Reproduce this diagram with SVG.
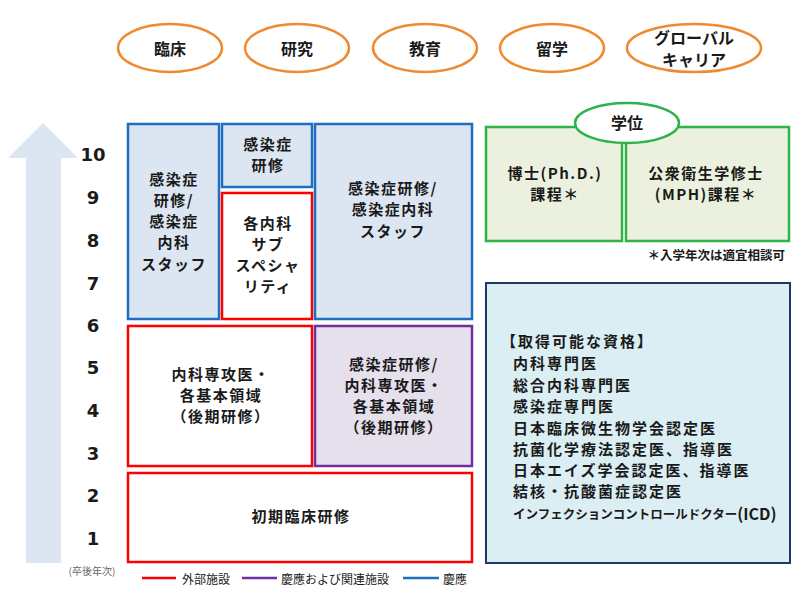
<svg xmlns="http://www.w3.org/2000/svg" width="800" height="600" viewBox="0 0 800 600">
<style>
text{font-family:"Noto Sans CJK JP","Noto Sans",sans-serif;fill:#1a1a1a;font-weight:bold}
.c{text-anchor:middle;dominant-baseline:central;font-size:15px;letter-spacing:1.5px}
.t{text-anchor:middle;dominant-baseline:central;font-size:16px}
.yr{text-anchor:middle;dominant-baseline:central;font-size:18px;font-family:"DejaVu Sans","Noto Sans",sans-serif}
.ov{fill:#fff;stroke:#F08A30;stroke-width:2.5}
.blue{fill:#DCE6F2;stroke:#1F6FC0;stroke-width:2.5}
.red{fill:#fff;stroke:#FF0000;stroke-width:2.5}
.pur{fill:#E5E0EC;stroke:#7030A0;stroke-width:2.5}
.grn{fill:#EBF1DE;stroke:#2DB34A;stroke-width:2.5}
.q{font-size:15px;letter-spacing:2px;dominant-baseline:central}
.lg{font-size:12px;dominant-baseline:central;font-weight:normal}
</style>
<rect width="800" height="600" fill="#fff"/>
<g id="career-ovals">
<g id="o1"><ellipse class="ov" cx="170" cy="48" rx="52" ry="24"/><text class="t" x="170" y="48">臨床</text></g>
<g id="o2"><ellipse class="ov" cx="297" cy="48" rx="52" ry="24"/><text class="t" x="297" y="48">研究</text></g>
<g id="o3"><ellipse class="ov" cx="425" cy="48" rx="52" ry="24"/><text class="t" x="425" y="48">教育</text></g>
<g id="o4"><ellipse class="ov" cx="552" cy="48" rx="52" ry="24"/><text class="t" x="552" y="48">留学</text></g>
<g id="o5"><ellipse class="ov" cx="694" cy="48" rx="67" ry="24"/><text class="t" x="694" y="37">グローバル</text><text class="t" x="694" y="59">キャリア</text></g>
</g>
<g id="axis">
<polygon points="43,123 78,158 61,158 61,563 26,563 26,158 8,158" fill="#DCE6F2"/>
<text class="yr" x="93" y="154">10</text>
<text class="yr" x="93" y="197">9</text>
<text class="yr" x="93" y="240">8</text>
<text class="yr" x="93" y="283">7</text>
<text class="yr" x="93" y="325">6</text>
<text class="yr" x="93" y="367">5</text>
<text class="yr" x="93" y="410">4</text>
<text class="yr" x="93" y="453">3</text>
<text class="yr" x="93" y="495">2</text>
<text class="yr" x="93" y="538">1</text>
<text x="92" y="570" text-anchor="middle" style="font-size:10px;font-weight:normal;fill:#666;dominant-baseline:central">(卒後年次)</text>
</g>
<g id="b1"><rect class="blue" x="128" y="124" width="91" height="195"/>
<text class="c" x="174" y="178">感染症</text><text class="c" x="174" y="199">研修/</text><text class="c" x="174" y="220">感染症</text><text class="c" x="174" y="241">内科</text><text class="c" x="174" y="263">スタッフ</text></g>
<g id="b2"><rect class="blue" x="222" y="124" width="90" height="63"/>
<text class="c" x="268" y="143">感染症</text><text class="c" x="268" y="164">研修</text></g>
<g id="b3"><rect class="red" x="222" y="193" width="90" height="126"/>
<text class="c" x="268" y="222">各内科</text><text class="c" x="268" y="243">サブ</text><text class="c" x="268" y="264">スペシャ</text><text class="c" x="268" y="285">リティ</text></g>
<g id="b4"><rect class="blue" x="315" y="124" width="157" height="195"/>
<text class="c" x="393" y="187">感染症研修/</text><text class="c" x="393" y="208">感染症内科</text><text class="c" x="393" y="230">スタッフ</text></g>
<g id="b5"><rect class="red" x="128" y="326" width="184" height="140"/>
<text class="c" x="221" y="373">内科専攻医・</text><text class="c" x="221" y="394">各基本領域</text><text class="c" x="221" y="415">（後期研修）</text></g>
<g id="b6"><rect class="pur" x="315" y="326" width="157" height="140"/>
<text class="c" x="394" y="363">感染症研修/</text><text class="c" x="394" y="384">内科専攻医・</text><text class="c" x="394" y="405">各基本領域</text><text class="c" x="394" y="426">（後期研修）</text></g>
<g id="b7"><rect class="red" x="128" y="473" width="344" height="89"/>
<text class="c" x="301" y="515">初期臨床研修</text></g>
<g id="degree">
<g id="g1"><rect class="grn" x="486" y="127" width="136" height="114"/>
<text class="c" x="555" y="172">博士(Ph.D.)</text><text class="c" x="555" y="193">課程＊</text></g>
<g id="g2"><rect class="grn" x="626" y="127" width="163" height="114"/>
<text class="c" x="706" y="172">公衆衛生学修士</text><text class="c" x="706" y="193">(MPH)課程＊</text></g>
<g id="g3"><ellipse cx="627" cy="123" rx="52" ry="20" fill="#fff" stroke="#2DB34A" stroke-width="2.5"/>
<text class="t" x="627" y="122">学位</text></g>
<text x="785" y="254" text-anchor="end" style="font-size:12.5px;dominant-baseline:central">＊入学年次は適宜相談可</text>
</g>
<g id="quals"><rect x="486" y="283" width="304" height="280" fill="#DAEEF3" stroke="#1F3864" stroke-width="2"/>
<text class="q" x="501" y="340">【取得可能な資格】</text>
<text class="q" x="513" y="362">内科専門医</text>
<text class="q" x="513" y="384">総合内科専門医</text>
<text class="q" x="513" y="405">感染症専門医</text>
<text class="q" x="513" y="427">日本臨床微生物学会認定医</text>
<text class="q" x="513" y="448">抗菌化学療法認定医、指導医</text>
<text class="q" x="513" y="469">日本エイズ学会認定医、指導医</text>
<text class="q" x="513" y="490">結核・抗酸菌症認定医</text>
<text x="513" y="513" style="font-size:12.5px;dominant-baseline:central">インフェクションコントロールドクター<tspan style="font-size:16px">(ICD)</tspan></text>
</g>
<g id="legend">
<line x1="142" y1="578" x2="176" y2="578" stroke="#FF0000" stroke-width="2.5"/>
<text class="lg" x="182" y="578">外部施設</text>
<line x1="242" y1="578" x2="277" y2="578" stroke="#7030A0" stroke-width="2.5"/>
<text class="lg" x="281" y="578">慶應および関連施設</text>
<line x1="403" y1="578" x2="439" y2="578" stroke="#1F6FC0" stroke-width="2.5"/>
<text class="lg" x="443" y="578">慶應</text>
</g>
</svg>
